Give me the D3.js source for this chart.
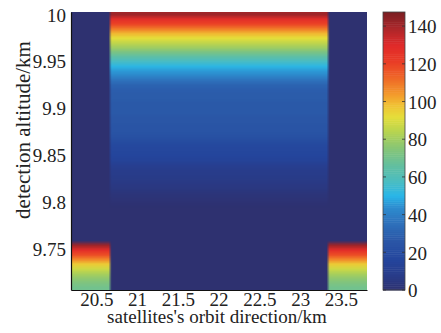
<!DOCTYPE html>
<html>
<head>
<meta charset="utf-8">
<script src="https://cdn.jsdelivr.net/npm/d3@7"></script>
<style>
  body { margin: 0; background: #fff; }
</style>
</head>
<body>
<svg id="chart" width="441" height="333"></svg>
<script>
// altitude rows (km, cell centres)
const altitudes = [9.7075, 9.7125, 9.7175, 9.7225, 9.7275, 9.7325, 9.7375, 9.7425, 9.7475, 9.7525,
  9.7575, 9.7625, 9.7675, 9.7725, 9.7775, 9.7825, 9.7875, 9.7925, 9.7975, 9.8025,
  9.8075, 9.8125, 9.8175, 9.8225, 9.8275, 9.8325, 9.8375, 9.8425, 9.8475, 9.8525,
  9.8575, 9.8625, 9.8675, 9.8725, 9.8775, 9.8825, 9.8875, 9.8925, 9.8975, 9.9025,
  9.9075, 9.9125, 9.9175, 9.9225, 9.9275, 9.9325, 9.9375, 9.9425, 9.9475, 9.9525,
  9.9575, 9.9625, 9.9675, 9.9725, 9.9775, 9.9825, 9.9875, 9.9925, 9.9975];

// value profile in the middle strip (20.66 - 23.34 km)
const centerProfile = [0, 0, 0, 0, 0, 0, 0, 0, 0, 0,
  0, 0, 0, 0, 0, 0, 0, 0, 1, 2,
  3, 5, 6, 7, 8, 9, 11, 14, 16, 17,
  18, 20, 23, 25, 25, 26, 26, 27, 27, 27,
  28, 28, 29, 31, 36, 42, 46, 51, 57, 64,
  72, 80, 86, 92, 100, 110, 120, 128, 141];

// value profile in the two side strips
const sideProfile = [70, 73, 77, 82, 88, 96, 107, 118, 128, 141,
  0, 0, 0, 0, 0, 0, 0, 0, 0, 0,
  0, 0, 0, 0, 0, 0, 0, 0, 0, 0,
  0, 0, 0, 0, 0, 0, 0, 0, 0, 0,
  0, 0, 0, 0, 0, 0, 0, 0, 0, 0,
  0, 0, 0, 0, 0, 0, 0, 0, 0];

const stripEdges = [20.66, 23.34];

const xTicks = [20.5, 21, 21.5, 22, 22.5, 23, 23.5];
const yTicks = [9.75, 9.8, 9.85, 9.9, 9.95, 10];
const cTicks = [0, 20, 40, 60, 80, 100, 120, 140];

const cmapValues = [0, 8, 16, 26, 36, 44, 50, 58, 66, 76, 85, 92, 98, 104, 112, 121, 130, 140, 147.5];
const cmapColors = ["#2e3170", "#283c8a", "#24459c", "#2a56a6", "#2e72bc", "#2d8ccf", "#29b5e8",
  "#4cbdc0", "#62bfa0", "#8ac673", "#bcd54d", "#e5de3a", "#f0c234", "#f39a2c", "#ef6b27",
  "#ea3d26", "#e02a2a", "#a5262a", "#7b1e22"];

const FONT = "Liberation Serif";

const svg = d3.select("#chart");
const margin = {top: 12, right: 74, bottom: 43, left: 71};
const W = 441 - margin.left - margin.right;
const H = 333 - margin.top - margin.bottom;
const g = svg.append("g").attr("transform", `translate(${margin.left},${margin.top})`);

const x = d3.scaleLinear().domain([20.19, 23.82]).range([0, W]);
const y = d3.scaleLinear().domain([9.705, 10.002]).range([H, 0]);
const color = d3.scaleLinear().domain(cmapValues).range(cmapColors).clamp(true);

// heat map: paint cells into a small canvas, let the image scaling smooth it
const nx = 91;
const ny = altitudes.length;
const canvas = document.createElement("canvas");
canvas.width = nx; canvas.height = ny;
const ctx = canvas.getContext("2d");
const xd = x.domain();
for (let i = 0; i < nx; i++) {
  const xc = xd[0] + (i + 0.5) * (xd[1] - xd[0]) / nx;
  const inside = xc >= stripEdges[0] && xc <= stripEdges[1];
  for (let j = 0; j < ny; j++) {
    const v = inside ? centerProfile[j] : sideProfile[j];
    ctx.fillStyle = color(v);
    ctx.fillRect(i, ny - 1 - j, 1, 1);
  }
}
g.append("image")
  .attr("href", canvas.toDataURL())
  .attr("x", 0).attr("y", 0)
  .attr("width", W).attr("height", H)
  .attr("preserveAspectRatio", "none")
  .style("image-rendering", "auto");

// axes
const xAxis = g.append("g").attr("transform", `translate(0,${H})`)
  .call(d3.axisBottom(x).tickValues(xTicks).tickSize(0).tickPadding(2).tickFormat(d3.format("")));
const yAxis = g.append("g")
  .call(d3.axisLeft(y).tickValues(yTicks).tickSize(0).tickPadding(5).tickFormat(d3.format("")));
[xAxis, yAxis].forEach(a => {
  a.attr("font-family", null).attr("font-size", null);
  a.select(".domain").attr("stroke", "#111").attr("stroke-width", 1.2);
  a.selectAll("text").attr("fill", "#222").attr("font-family", FONT).attr("font-size", 19);
});
yAxis.selectAll("text").attr("dy", "0.38em");

svg.append("text")
  .attr("x", 217).attr("y", 323)
  .attr("text-anchor", "middle").attr("fill", "#222")
  .attr("font-family", FONT).attr("font-size", 19)
  .text("satellites's orbit direction/km");
svg.append("text")
  .attr("transform", "translate(30,130) rotate(-90)")
  .attr("text-anchor", "middle").attr("fill", "#222")
  .attr("font-family", FONT).attr("font-size", 21)
  .text("detection altitude/km");

// colour bar
const cb = svg.append("g").attr("transform", `translate(383,${margin.top})`);
const cbW = 22;
const c = d3.scaleLinear().domain([0, 147.5]).range([H, 0]);
const steps = d3.range(0, 147.5, 1);
cb.selectAll("rect.step")
  .data(steps)
  .join("rect")
  .attr("class", "step")
  .attr("x", 0).attr("width", cbW)
  .attr("y", d => c(Math.min(d + 1, 147.5)))
  .attr("height", d => c(d) - c(Math.min(d + 1, 147.5)) + 0.5)
  .attr("fill", d => color(d + 0.5));
cb.append("rect").attr("width", cbW).attr("height", H)
  .attr("fill", "none").attr("stroke", "#444").attr("stroke-width", 0.8);
cb.selectAll("line.tl").data(cTicks).join("line").attr("class", "tl")
  .attr("x1", 0).attr("x2", 3).attr("y1", d => c(d)).attr("y2", d => c(d))
  .attr("stroke", "#333").attr("stroke-width", 0.8);
cb.selectAll("line.tr").data(cTicks).join("line").attr("class", "tr")
  .attr("x1", cbW - 3).attr("x2", cbW).attr("y1", d => c(d)).attr("y2", d => c(d))
  .attr("stroke", "#333").attr("stroke-width", 0.8);
cb.selectAll("text").data(cTicks).join("text")
  .attr("x", cbW + 3).attr("y", d => c(d)).attr("dy", "0.38em")
  .attr("fill", "#222").attr("font-family", FONT).attr("font-size", 19)
  .text(d => d);
</script>
</body>
</html>
